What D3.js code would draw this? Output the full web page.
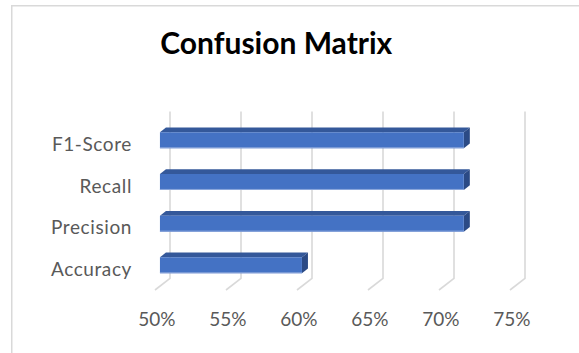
<!DOCTYPE html>
<html>
<head>
<meta charset="utf-8">
<script src="https://cdn.jsdelivr.net/npm/d3@7"></script>
<style>
  body { margin: 0; background: #fff; }
  text { font-family: Lato, "Open Sans", sans-serif; }
</style>
</head>
<body>
<div id="chart"></div>
<script>
var W = 579, H = 353;
// data, Excel order (bottom to top)
var categories = ["Accuracy", "Precision", "Recall", "F1-Score"];
var values = [0.600, 0.714, 0.714, 0.714];
var ticks = [0.50, 0.55, 0.60, 0.65, 0.70, 0.75];
var title = "Confusion Matrix";

// oblique 3d: depth vector from front plane to back wall
var DX = 15, DY = -11.7;
var Z0 = 0.33, Z1 = 0.73;   // bar front / back depth
var BAR_H = 16;

var svg = d3.select('#chart').append('svg')
    .attr('width', W).attr('height', H);

svg.append('rect').attr('width', W).attr('height', H).attr('fill', '#fff');
// chart border (runs off right and bottom)
svg.append('rect')
    .attr('x', 11.75).attr('y', 5.75)
    .attr('width', W + 20).attr('height', H + 20)
    .attr('fill', 'none').attr('stroke', '#d9d9d9').attr('stroke-width', 1.5);

var x = d3.scaleLinear().domain([0.5, 0.75]).range([155, 510]);
var y = d3.scaleBand().domain(categories.slice().reverse()).range([123.3, 290]);

function P(px, py, z) { return [px + DX * z, py + DY * z]; }

// gridlines: back wall + floor
var grid = svg.append('g').attr('fill', 'none').attr('stroke', '#d9d9d9').attr('stroke-width', 1.6);
grid.selectAll('polyline').data(ticks).enter().append('polyline')
    .attr('points', function(t) {
        var a = P(x(t), y.range()[0], 1), b = P(x(t), y.range()[1], 1), c = [x(t), y.range()[1]];
        return [a, b, c].map(function(p) { return p.join(','); }).join(' ');
    });

// bars
var bars = svg.append('g').selectAll('g').data(categories).enter().append('g');
function barPts(i) {
    var yc = y(categories[i]) + y.bandwidth() / 2;
    return {
        x0: x(0.5), x1: x(values[i]), t: yc - BAR_H / 2, b: yc + BAR_H / 2
    };
}
function poly(pts) { return pts.map(function(p) { return p.join(','); }).join(' '); }

bars.append('polygon')   // top face
    .attr('fill', '#34589a')
    .attr('points', function(d, i) {
        var q = barPts(i);
        return poly([P(q.x0, q.t, Z0), P(q.x1, q.t, Z0), P(q.x1, q.t, Z1), P(q.x0, q.t, Z1)]);
    });
bars.append('polygon')   // right face
    .attr('fill', '#2b4a85')
    .attr('points', function(d, i) {
        var q = barPts(i);
        return poly([P(q.x1, q.t, Z0), P(q.x1, q.t, Z1), P(q.x1, q.b, Z1), P(q.x1, q.b, Z0)]);
    });
bars.append('polygon')   // front face
    .attr('fill', '#4472c4')
    .attr('points', function(d, i) {
        var q = barPts(i);
        return poly([P(q.x0, q.t, Z0), P(q.x1, q.t, Z0), P(q.x1, q.b, Z0), P(q.x0, q.b, Z0)]);
    });
bars.append('line')      // light bottom edge
    .attr('stroke', '#8fa9dc').attr('stroke-width', 1)
    .attr('x1', function(d, i) { var q = barPts(i); return P(q.x0, q.b, Z0)[0]; })
    .attr('x2', function(d, i) { var q = barPts(i); return P(q.x1, q.b, Z0)[0]; })
    .attr('y1', function(d, i) { var q = barPts(i); return P(q.x0, q.b, Z0)[1] - 0.5; })
    .attr('y2', function(d, i) { var q = barPts(i); return P(q.x1, q.b, Z0)[1] - 0.5; });

// category labels
svg.append('g').selectAll('text').data(categories).enter().append('text')
    .attr('x', 132)
    .attr('y', function(d) { return y(d) + y.bandwidth() / 2 + 6.8; })
    .attr('text-anchor', 'end')
    .attr('fill', '#595959')
    .style('font-size', '19px')
    .style('letter-spacing', '0.6px')
    .text(function(d) { return d; });

// value axis labels
svg.append('g').selectAll('text').data(ticks).enter().append('text')
    .attr('x', function(t) { return x(t) + 1.8; })
    .attr('y', 326)
    .attr('text-anchor', 'middle')
    .attr('fill', '#595959')
    .style('font-size', '19px')
    .text(function(t) { return d3.format('.0%')(t); });

// title
svg.append('text')
    .attr('x', 276.3).attr('y', 53.5)
    .attr('text-anchor', 'middle')
    .attr('fill', '#000')
    .style('font-size', '30px').style('font-weight', 'bold')
    .text(title);
</script>
</body>
</html>
